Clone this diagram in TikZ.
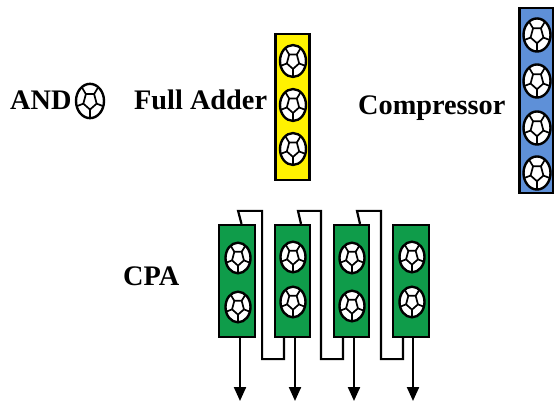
\documentclass[tikz,border=0pt]{standalone}
\usepackage{fontspec}
\setmainfont{Liberation Serif}
\usetikzlibrary{shapes.geometric,arrows.meta}
\definecolor{fayellow}{HTML}{FFF200}
\definecolor{compblue}{HTML}{5E90D8}
\definecolor{cpagreen}{HTML}{0F9C4A}
\tikzset{
  ball/.style={ellipse,draw=black,line width=2.4pt,fill=white,inner sep=0pt,
    minimum width=#1*2pt,minimum height=#1*2.45pt,
    path picture={
      \begin{scope}[shift={(path picture bounding box.center)},x=#1*1pt,y=#1*1.22pt,line width=1.7pt]
        \draw (270:.5) -- (342:.5) -- (54:.5) -- (126:.5) -- (198:.5) -- cycle;
        \foreach \a in {270,342,54,126,198}{\draw (\a:.5) -- (\a:1.1);}
      \end{scope}}},
  blockbox/.style={draw=black,line width=2.2pt,inner sep=0pt},
  lbl/.style={font=\bfseries\fontsize{28.3}{28.3}\selectfont,anchor=base west,inner sep=0pt},
  wire/.style={draw=black,line width=2.2pt,line join=miter},
  outarrow/.style={draw=black,line width=2.2pt,-{Triangle[width=12pt,length=14pt]}}
}
\begin{document}
\begin{tikzpicture}[x=1pt,y=-1pt]
\useasboundingbox (0,0) rectangle (554,403);
% labels
\node[lbl] (andl) at (10,110) {AND};
\node[lbl] (fal) at (134,110) {Full Adder};
\node[lbl] (coml) at (358,115) {Compressor};
\node[lbl] (cpal) at (123,286) {CPA};
\node[ball=14] (andb) at (90,101) {};
% yellow
\node[blockbox,fill=fayellow,minimum width=34pt,minimum height=146pt] (fa) at (292.5,107) {};
\foreach \y/\n in {61/a,105/b,149/c}{\node[ball=13] (fa\n) at (293,\y) {};}
% blue
\node[blockbox,fill=compblue,minimum width=34pt,minimum height=185pt] (co) at (536.5,100.5) {};
\foreach \y/\n in {35/a,81/b,128/c,173/d}{\node[ball=13.5] (co\n) at (537,\y) {};}
% green
\node[blockbox,fill=cpagreen,minimum width=36pt,minimum height=112pt] (g1) at (237,281) {};
\node[blockbox,fill=cpagreen,minimum width=35pt,minimum height=112pt] (g2) at (292.5,281) {};
\node[blockbox,fill=cpagreen,minimum width=35pt,minimum height=112pt] (g3) at (351.5,281) {};
\node[blockbox,fill=cpagreen,minimum width=36pt,minimum height=112pt] (g4) at (411,281) {};
\node[ball=12.5] (g1a) at (238,258) {};
\node[ball=12.5] (g1b) at (238,307) {};
\node[ball=12.5] (g2a) at (293,257) {};
\node[ball=12.5] (g2b) at (293,302) {};
\node[ball=12.5] (g3a) at (352,258) {};
\node[ball=12.5] (g3b) at (352,306) {};
\node[ball=12.5] (g4a) at (412,257) {};
\node[ball=12.5] (g4b) at (412,302) {};
% carry wires
\draw[wire] ([xshift=4.5pt]g1.north) -- ++(-3.4,-13) -- ++(24,0) |- ([xshift=-8.5pt,yshift=-21pt]g2.south) -- ([xshift=-8.5pt]g2.south);
\draw[wire] ([xshift=8.5pt]g2.north) -- ++(-3,-13) -- ++(23,0) |- ([xshift=-8.5pt,yshift=-21pt]g3.south) -- ([xshift=-8.5pt]g3.south);
\draw[wire] ([xshift=8.5pt]g3.north) -- ++(-3,-13) -- ++(24,0) |- ([xshift=-8pt,yshift=-21pt]g4.south) -- ([xshift=-8pt]g4.south);
% outputs
\coordinate (o1) at (240,401);
\coordinate (o2) at (295,401);
\coordinate (o3) at (354,401);
\coordinate (o4) at (413,401);
\draw[outarrow] (g1.south -| o1) -- (o1);
\draw[outarrow] (g2.south -| o2) -- (o2);
\draw[outarrow] (g3.south -| o3) -- (o3);
\draw[outarrow] (g4.south -| o4) -- (o4);
\end{tikzpicture}
\end{document}
